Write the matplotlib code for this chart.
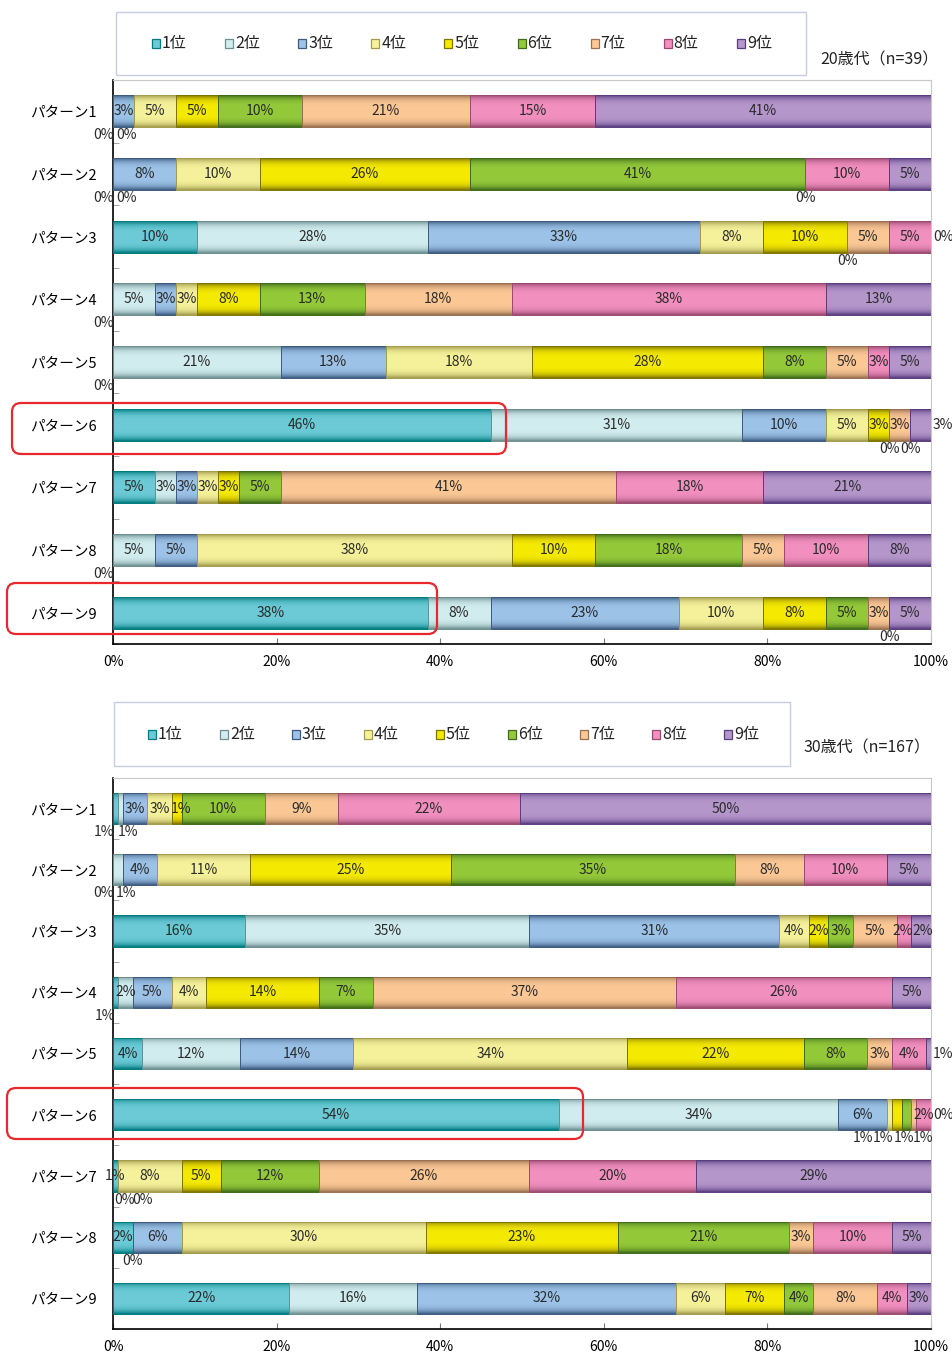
import numpy as np
import matplotlib
matplotlib.use("Agg")
import matplotlib.pyplot as plt
from matplotlib.patches import Rectangle, FancyBboxPatch
from matplotlib.colors import to_rgb

plt.rcParams['font.family'] = ['Noto Sans CJK JP', 'DejaVu Sans']
NARROW = ['Liberation Sans Narrow', 'Noto Sans CJK JP', 'DejaVu Sans']

W, H = 952, 1353

patterns = [f"パターン{i}" for i in range(1, 10)]
ranks = [f"{i}位" for i in range(1, 10)]

# respondents choosing each rank (1位..9位) per pattern
n_20s = 39
counts_20s = [
    [0, 0, 1, 2, 2, 4, 8, 6, 16],
    [0, 0, 3, 4, 10, 16, 0, 4, 2],
    [4, 11, 13, 3, 4, 0, 2, 2, 0],
    [0, 2, 1, 1, 3, 5, 7, 15, 5],
    [0, 8, 5, 7, 11, 3, 2, 1, 2],
    [18, 12, 4, 2, 1, 0, 1, 0, 1],
    [2, 1, 1, 1, 1, 2, 16, 7, 8],
    [0, 2, 2, 15, 4, 7, 2, 4, 3],
    [15, 3, 9, 4, 3, 2, 1, 0, 2],
]
n_30s = 167
counts_30s = [
    [1, 1, 5, 5, 2, 17, 15, 37, 84],
    [0, 2, 7, 19, 41, 58, 14, 17, 9],
    [27, 58, 51, 6, 4, 5, 9, 3, 4],
    [1, 3, 8, 7, 23, 11, 62, 44, 8],
    [6, 20, 23, 56, 36, 13, 5, 7, 1],
    [91, 57, 10, 1, 2, 2, 1, 3, 0],
    [1, 0, 0, 13, 8, 20, 43, 34, 48],
    [4, 0, 10, 50, 39, 35, 5, 16, 8],
    [36, 26, 53, 10, 12, 6, 13, 6, 5],
]

center = ['#6ccbd6', '#d2edf0', '#9dc3e8', '#f6f29c', '#f5ea00',
          '#94ca3a', '#fbc896', '#f290c0', '#b597cc']
edge = ['#007b7f', '#6d8f90', '#3d5a80', '#a39c4e', '#7d7400',
        '#3f6a1a', '#9a7050', '#9a4a70', '#5a3d80']

# label placement tweaks: (row, rank) -> (mode, ha, dx in px)
tweaks_20s = {(5, 8): ('right', 'left', 0)}
tweaks_30s = {
    (0, 0): ('below', 'right', 1),
    (0, 1): ('below', 'left', 0),
    (0, 4): ('in', 'center', 4),
    (1, 1): ('below', 'left', 3),
    (2, 7): ('in', 'center', -1),
    (2, 8): ('in', 'center', 1),
    (3, 0): ('below', 'right', 2),
    (4, 8): ('right', 'left', 0),
    (5, 3): ('below', 'center', -26),
    (5, 4): ('below', 'center', -14),
    (5, 5): ('below', 'center', -3),
    (5, 6): ('below', 'center', 9),
    (6, 1): ('below', 'left', -4),
    (6, 2): ('below', 'left', 14),
}

LABEL_FS = 10
LABEL_COLOR = '#2a2a2a'


def shade(j):
    t = np.linspace(0, 1, 64)
    f = 1 - np.abs(2 * t - 1) ** 4
    c0 = np.array(to_rgb(edge[j]))
    c1 = np.array(to_rgb(center[j]))
    return (c0 + (c1 - c0) * f[:, None])[:, None, :]


def draw_panel(ax, counts, n, tweaks):
    pct = np.array(counts, dtype=float) / n * 100
    y = np.arange(len(patterns))
    h = 0.51
    left = np.zeros(len(patterns))
    for j in range(len(ranks)):
        bars = ax.barh(y, pct[:, j], left=left, height=h, color=center[j],
                       edgecolor=edge[j], linewidth=0.7, zorder=2)
        img = shade(j)
        for i, bar in enumerate(bars):
            w = pct[i, j]
            x0 = left[i]
            if w > 0:
                im = ax.imshow(img, extent=(x0, x0 + w, i + h / 2, i - h / 2),
                               aspect='auto', interpolation='bilinear', zorder=2.5)
                im.set_clip_path(bar)
            bar.set_facecolor('none')
            bar.set_zorder(3)

            txt = f"{int(w + 0.5)}%"
            if (i, j) in tweaks:
                mode, ha, dx = tweaks[(i, j)]
            elif w == 0 and x0 >= 99.99:
                mode, ha, dx = 'right', 'left', 0
            elif w == 0 and x0 <= 0.01:
                mode, ha, dx = ('below', 'right', 1) if j == 0 else ('below', 'left', 3)
            elif w == 0:
                mode, ha, dx = 'below', 'center', 0
            else:
                mode, ha, dx = 'in', 'center', 0

            style = dict(fontsize=LABEL_FS, family=NARROW, color=LABEL_COLOR,
                         annotation_clip=False, zorder=5, textcoords='offset pixels')
            if mode == 'in':
                ax.annotate(txt, (x0 + w / 2, i), xytext=(dx, 0),
                            ha='center', va='center', **style)
            elif mode == 'right':
                ax.annotate(txt, (100, i), xytext=(2, 0),
                            ha='left', va='center', **style)
            else:
                xa = x0 + w / 2 if ha == 'center' else x0
                ax.annotate(txt, (xa, i + h / 2), xytext=(dx, -1),
                            ha=ha, va='top', **style)
        left = left + pct[:, j]

    ax.set_xlim(0, 100)
    ax.set_ylim(len(patterns) - 0.5, -0.5)
    ax.set_yticks(y)
    ax.set_yticklabels(patterns, fontsize=10.5)
    ax.set_yticks(np.arange(-0.5, len(patterns), 1), minor=True)
    ax.tick_params(axis='y', which='major', length=0, pad=12)
    ax.tick_params(axis='y', which='minor', direction='in', length=4, color='#999999')
    ax.set_xticks(np.arange(0, 101, 20))
    ax.set_xticklabels([f"{v}%" for v in range(0, 101, 20)], family=NARROW, fontsize=10)
    ax.tick_params(axis='x', direction='in', length=4, pad=8, color='#777777')
    for s in ('top', 'right'):
        ax.spines[s].set_color('#c8c8c8')
        ax.spines[s].set_linewidth(0.8)
    for s in ('left', 'bottom'):
        ax.spines[s].set_color('black')
        ax.spines[s].set_linewidth(1.2)


def px_axes(fig, x0, y0, x1, y1):
    return fig.add_axes([x0 / W, 1 - y1 / H, (x1 - x0) / W, (y1 - y0) / H])


fig = plt.figure(figsize=(W / 100, H / 100), dpi=100)

ax1 = px_axes(fig, 113, 80, 931, 644)
draw_panel(ax1, counts_20s, n_20s, tweaks_20s)
ax2 = px_axes(fig, 113, 778, 931, 1329)
draw_panel(ax2, counts_30s, n_30s, tweaks_30s)

# overlay in pixel units for legends, captions and highlight frames
ov = fig.add_axes([0, 0, 1, 1], zorder=10)
ov.set_xlim(0, W)
ov.set_ylim(H, 0)
ov.axis('off')


def legend_box(x, y, w, h, x_first, step):
    ov.add_patch(Rectangle((x, y), w, h, fill=False, edgecolor='#c5cde0', lw=1))
    yc = y + h / 2
    for j, r in enumerate(ranks):
        xs = x_first + j * step
        ov.add_patch(Rectangle((xs, yc - 4.5), 8, 9, facecolor=center[j],
                               edgecolor=edge[j], lw=0.9))
        ov.text(xs + 10, yc, r, ha='left', va='center', fontsize=11.5,
                family=NARROW, color='#222222')


legend_box(116, 12, 690, 63, 152, 73.1)
legend_box(114, 702, 676, 64, 148, 72)

ov.text(820, 60, "20歳代（n=39）", ha='left', va='center', fontsize=11.5,
        family=NARROW, color='#222222')
ov.text(803, 748, "30歳代（n=167）", ha='left', va='center', fontsize=11.5,
        family=NARROW, color='#222222')

for (x0, y0, x1, y1) in [(12, 403, 506, 454), (7, 583, 437, 634), (7, 1088, 583, 1139)]:
    ov.add_patch(FancyBboxPatch((x0, y0), x1 - x0, y1 - y0,
                                boxstyle="round,pad=0,rounding_size=9",
                                fill=False, edgecolor='#e8282c', lw=1.6))

fig.savefig("out.png", dpi=100)
